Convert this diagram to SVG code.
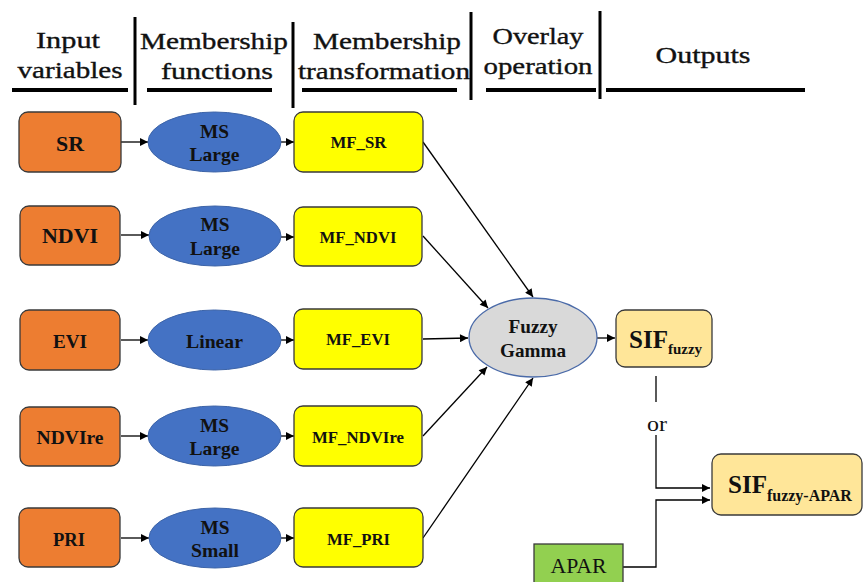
<svg xmlns="http://www.w3.org/2000/svg" width="865" height="582" viewBox="0 0 865 582">
<defs>
<marker id="ah" viewBox="0 0 10 10" refX="10" refY="5" markerWidth="9" markerHeight="8" markerUnits="userSpaceOnUse" orient="auto"><path d="M0,0 L10,5 L0,10 z" fill="#000"/></marker>
<style>
text{font-family:'Liberation Serif','Times New Roman','Noto Serif','DejaVu Serif',serif}
.hd{font-size:24px;fill:#111;text-anchor:middle;stroke:#111;stroke-width:0.35}
.sep{stroke:#000;stroke-width:3}
.ul{stroke:#000;stroke-width:4}
.in{fill:#ED7D31;stroke:#3a3a3a;stroke-width:1.3}
.ms{fill:#4472C4;stroke:#3d64a8;stroke-width:1}
.mf{fill:#FFFF00;stroke:#3a3a3a;stroke-width:1.3}
.out{fill:#FFE699;stroke:#3a3a3a;stroke-width:1.3}
.t{font-weight:bold;fill:#111;text-anchor:middle}
.r{fill:#111;text-anchor:middle}
.c{fill:none;stroke:#000;stroke-width:1.3}
</style>
</defs>
<rect width="865" height="582" fill="#fff"/>
<g id="header">
<text class="hd" x="68" y="48" textLength="64" lengthAdjust="spacingAndGlyphs">Input</text>
<text class="hd" x="70" y="78" textLength="105" lengthAdjust="spacingAndGlyphs">variables</text>
<text class="hd" x="214" y="49" textLength="148" lengthAdjust="spacingAndGlyphs">Membership</text>
<text class="hd" x="217" y="79" textLength="112" lengthAdjust="spacingAndGlyphs">functions</text>
<text class="hd" x="387" y="49" textLength="148" lengthAdjust="spacingAndGlyphs">Membership</text>
<text class="hd" x="384" y="79" textLength="172" lengthAdjust="spacingAndGlyphs">transformation</text>
<text class="hd" x="538" y="44" textLength="91" lengthAdjust="spacingAndGlyphs">Overlay</text>
<text class="hd" x="538" y="74" textLength="109" lengthAdjust="spacingAndGlyphs">operation</text>
<text class="hd" x="703" y="63" textLength="95" lengthAdjust="spacingAndGlyphs">Outputs</text>
<line class="sep" x1="135" y1="17" x2="135" y2="105"/>
<line class="sep" x1="293" y1="22" x2="293" y2="108"/>
<line class="sep" x1="471" y1="12" x2="471" y2="100"/>
<line class="sep" x1="600" y1="11" x2="600" y2="99"/>
<line class="ul" x1="12" y1="90" x2="128" y2="90"/>
<line class="ul" x1="147" y1="90" x2="272" y2="90"/>
<line class="ul" x1="302" y1="90" x2="457" y2="90"/>
<line class="ul" x1="486" y1="90" x2="596" y2="90"/>
<line class="ul" x1="606" y1="90" x2="805" y2="90"/>
</g>
<g id="connectors">
<line class="c" x1="121" y1="142" x2="148" y2="142" marker-end="url(#ah)"/>
<line class="c" x1="281" y1="142" x2="294" y2="142" marker-end="url(#ah)"/>
<line class="c" x1="121" y1="235" x2="149" y2="235" marker-end="url(#ah)"/>
<line class="c" x1="281" y1="237" x2="294" y2="237" marker-end="url(#ah)"/>
<line class="c" x1="121" y1="340" x2="148" y2="340" marker-end="url(#ah)"/>
<line class="c" x1="281" y1="340" x2="294" y2="340" marker-end="url(#ah)"/>
<line class="c" x1="121" y1="436" x2="148" y2="436" marker-end="url(#ah)"/>
<line class="c" x1="281" y1="436" x2="294" y2="436" marker-end="url(#ah)"/>
<line class="c" x1="121" y1="538" x2="149" y2="538" marker-end="url(#ah)"/>
<line class="c" x1="281" y1="538" x2="294" y2="538" marker-end="url(#ah)"/>
<line class="c" x1="423" y1="142" x2="533" y2="297" marker-end="url(#ah)"/>
<line class="c" x1="423" y1="236" x2="488" y2="308" marker-end="url(#ah)"/>
<line class="c" x1="423" y1="339" x2="468" y2="338" marker-end="url(#ah)"/>
<line class="c" x1="423" y1="436" x2="487" y2="367" marker-end="url(#ah)"/>
<line class="c" x1="423" y1="538" x2="533" y2="378" marker-end="url(#ah)"/>
<line class="c" x1="597" y1="338" x2="615" y2="338" marker-end="url(#ah)"/>
<line class="c" x1="656" y1="376" x2="656" y2="402"/>
<polyline class="c" points="656,435 656,488 710,488" marker-end="url(#ah)"/>
<polyline class="c" points="623,567 656,567 656,500 710,500" marker-end="url(#ah)"/>
<text class="r" x="657" y="431" font-size="22" textLength="20" lengthAdjust="spacingAndGlyphs">or</text>
</g>
<g id="SR"><rect class="in" x="19" y="112" width="102" height="60" rx="9"/><text class="t" x="70" y="151" font-size="22" textLength="28" lengthAdjust="spacingAndGlyphs">SR</text></g>
<g id="NDVI"><rect class="in" x="20" y="206" width="100" height="59" rx="9"/><text class="t" x="70" y="243" font-size="22" textLength="56" lengthAdjust="spacingAndGlyphs">NDVI</text></g>
<g id="EVI"><rect class="in" x="20" y="310" width="100" height="60" rx="9"/><text class="t" x="70" y="348" font-size="19.5" textLength="34" lengthAdjust="spacingAndGlyphs">EVI</text></g>
<g id="NDVIre"><rect class="in" x="20" y="407" width="100" height="59" rx="9"/><text class="t" x="70" y="444" font-size="19.5" textLength="67" lengthAdjust="spacingAndGlyphs">NDVIre</text></g>
<g id="PRI"><rect class="in" x="19" y="508" width="101" height="59" rx="9"/><text class="t" x="69" y="546" font-size="19" textLength="32" lengthAdjust="spacingAndGlyphs">PRI</text></g>
<g id="ms1"><ellipse class="ms" cx="214.5" cy="142" rx="66.5" ry="30"/><text class="t" x="214.5" y="138" font-size="19" textLength="29" lengthAdjust="spacingAndGlyphs">MS</text><text class="t" x="214.5" y="161" font-size="19" textLength="50" lengthAdjust="spacingAndGlyphs">Large</text></g>
<g id="ms2"><ellipse class="ms" cx="215" cy="236" rx="66" ry="30"/><text class="t" x="215" y="231" font-size="19" textLength="29" lengthAdjust="spacingAndGlyphs">MS</text><text class="t" x="215" y="255" font-size="19" textLength="50" lengthAdjust="spacingAndGlyphs">Large</text></g>
<g id="lin"><ellipse class="ms" cx="214.5" cy="340" rx="66.5" ry="30"/><text class="t" x="214.5" y="348" font-size="19.5" textLength="57" lengthAdjust="spacingAndGlyphs">Linear</text></g>
<g id="ms4"><ellipse class="ms" cx="214.5" cy="436" rx="66.5" ry="30"/><text class="t" x="214.5" y="432" font-size="19" textLength="29" lengthAdjust="spacingAndGlyphs">MS</text><text class="t" x="214.5" y="455" font-size="19" textLength="50" lengthAdjust="spacingAndGlyphs">Large</text></g>
<g id="ms5"><ellipse class="ms" cx="215" cy="538" rx="66" ry="30"/><text class="t" x="215" y="534" font-size="19" textLength="29" lengthAdjust="spacingAndGlyphs">MS</text><text class="t" x="215" y="557" font-size="19" textLength="48" lengthAdjust="spacingAndGlyphs">Small</text></g>
<g id="MF_SR"><rect class="mf" x="294" y="112" width="129" height="60" rx="9"/><text class="t" x="358.5" y="148" font-size="16.5" textLength="56" lengthAdjust="spacingAndGlyphs">MF_SR</text></g>
<g id="MF_NDVI"><rect class="mf" x="294" y="207" width="128" height="59" rx="9"/><text class="t" x="358" y="243" font-size="16.5" textLength="77" lengthAdjust="spacingAndGlyphs">MF_NDVI</text></g>
<g id="MF_EVI"><rect class="mf" x="294" y="309" width="128" height="60" rx="9"/><text class="t" x="358" y="345" font-size="16.5" textLength="64" lengthAdjust="spacingAndGlyphs">MF_EVI</text></g>
<g id="MF_NDVIre"><rect class="mf" x="294" y="406" width="128" height="60" rx="9"/><text class="t" x="358" y="443" font-size="16.5" textLength="92" lengthAdjust="spacingAndGlyphs">MF_NDVIre</text></g>
<g id="MF_PRI"><rect class="mf" x="294" y="508" width="129" height="59" rx="9"/><text class="t" x="358.5" y="545" font-size="16.5" textLength="63" lengthAdjust="spacingAndGlyphs">MF_PRI</text></g>
<g id="fuzzy"><ellipse cx="533" cy="337.5" rx="64" ry="39.5" fill="#D9D9D9" stroke="#4a6aa8" stroke-width="1.3"/><text class="t" x="533" y="333" font-size="19" textLength="49" lengthAdjust="spacingAndGlyphs">Fuzzy</text><text class="t" x="533" y="357" font-size="19" textLength="66" lengthAdjust="spacingAndGlyphs">Gamma</text></g>
<g id="SIFfuzzy"><rect class="out" x="616" y="310" width="96" height="57" rx="9"/><text class="t" x="629" y="348" font-size="25" style="text-anchor:start"><tspan>SIF</tspan><tspan font-size="15" dy="6">fuzzy</tspan></text></g>
<g id="SIFapar"><rect class="out" x="712" y="454" width="150" height="61" rx="9"/><text class="t" x="728" y="493" font-size="25" style="text-anchor:start"><tspan>SIF</tspan><tspan font-size="16" dy="8">fuzzy-APAR</tspan></text></g>
<g id="APAR"><rect x="534" y="544" width="89" height="45" fill="#92D050" stroke="#3a3a3a" stroke-width="1.3"/><text class="r" x="578.5" y="573" font-size="21" textLength="56" lengthAdjust="spacingAndGlyphs">APAR</text></g>
</svg>
